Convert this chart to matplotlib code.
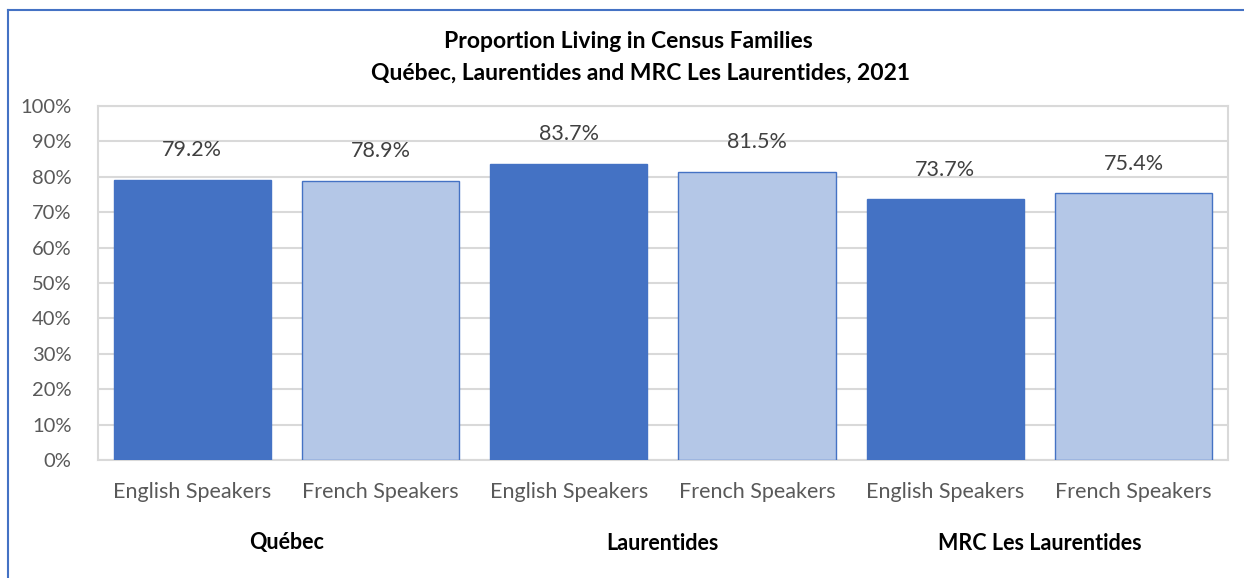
import matplotlib.pyplot as plt
from matplotlib.lines import Line2D
import numpy as np

plt.rcParams['font.family'] = ['Lato', 'DejaVu Sans']

# data
groups = ["Québec", "Laurentides", "MRC Les Laurentides"]
speakers = ["English Speakers", "French Speakers"]
values = [79.2, 78.9, 83.7, 81.5, 73.7, 75.4]
colors = ["#4472C4", "#B4C7E7"] * 3

fig = plt.figure(figsize=(12.44, 5.78), dpi=100)
ax = fig.add_axes([0.0788, 0.204, 0.908, 0.6126])

x = np.arange(len(values))
bars = ax.bar(x, values, width=0.835, color=colors, edgecolor="#4472C4", linewidth=1, zorder=3)

for b, v in zip(bars, values):
    ax.annotate(f"{v:.1f}%", (b.get_x() + b.get_width() / 2, v),
                xytext=(0, 14), textcoords="offset points",
                ha="center", va="bottom", fontsize=15.5, color="#404040")

ax.set_xlim(-0.5, len(values) - 0.5)
ax.set_ylim(0, 100)
ax.set_yticks(np.arange(0, 101, 10))
ax.set_yticklabels([f"{t}%" for t in range(0, 101, 10)], fontsize=14.5, color="#595959")
ax.set_xticks(x)
ax.set_xticklabels(speakers * 3, fontsize=15.5, color="#595959")
ax.tick_params(axis="y", length=0, pad=19)
ax.tick_params(axis="x", length=0, pad=16)
ax.grid(axis="y", color="#D9D9D9", linewidth=1.5, zorder=0)
for s in ax.spines.values():
    s.set_color("#D9D9D9")
    s.set_linewidth(1.5)

# group labels
for i, g in enumerate(groups):
    xf = (98 + 188.3 * (2 * i + 1)) / 1244
    fig.text(xf, 1 - 543 / 578, g, ha="center", va="center",
             fontsize=15.5, fontweight="bold", color="black")

fig.text(0.505, 1 - 42 / 578, "Proportion Living in Census Families",
         ha="center", va="center", fontsize=16.5, fontweight="bold")
fig.text(0.515, 1 - 73 / 578, "Québec, Laurentides and MRC Les Laurentides, 2021",
         ha="center", va="center", fontsize=16.5, fontweight="bold")

# outer border (top and left visible)
fig.add_artist(Line2D([8 / 1244, 1], [1 - 10 / 578, 1 - 10 / 578], color="#4472C4", linewidth=1.5))
fig.add_artist(Line2D([8 / 1244, 8 / 1244], [0, 1 - 10 / 578], color="#4472C4", linewidth=1.5))

fig.savefig("out.png", dpi=100)
